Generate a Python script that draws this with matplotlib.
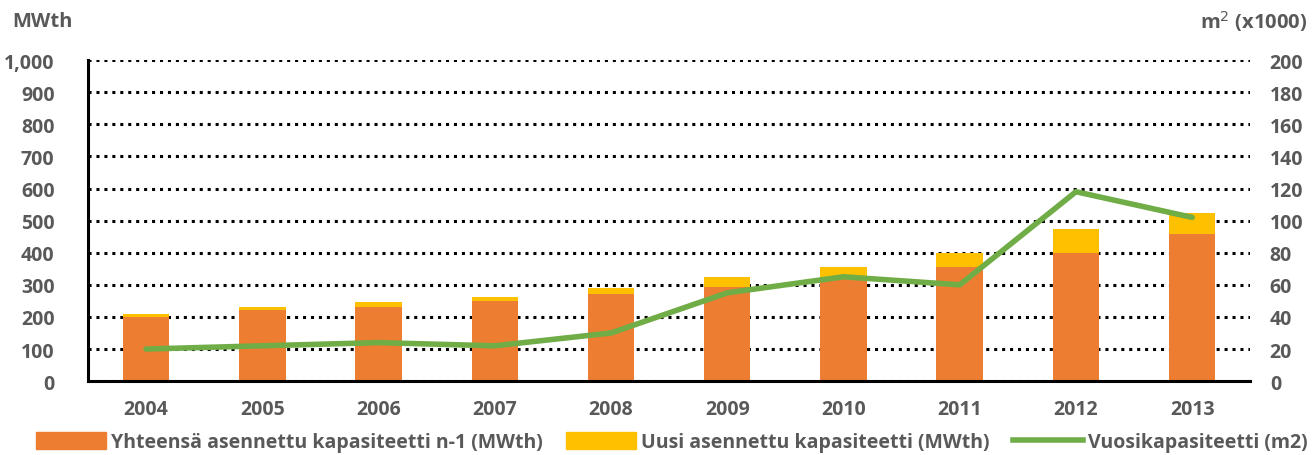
import matplotlib
matplotlib.use("Agg")
import matplotlib.pyplot as plt
import numpy as np
from matplotlib.lines import Line2D
from matplotlib.patches import Patch

years = ["2004", "2005", "2006", "2007", "2008", "2009", "2010", "2011", "2012", "2013"]
base_mwth = [200, 222, 230, 250, 270, 294, 325, 357, 398, 458]
total_mwth = [210, 230, 246, 262, 289, 325, 357, 398, 473, 525]
new_mwth = [t - b for t, b in zip(total_mwth, base_mwth)]
annual_m2 = [20, 22, 24, 22, 30, 55, 65, 60, 118, 102]

left_ticks = [0, 100, 200, 300, 400, 500, 600, 700, 800, 900, 1000]
right_ticks = [0, 20, 40, 60, 80, 100, 120, 140, 160, 180, 200]

ORANGE = "#ED7D31"
YELLOW = "#FFC000"
GREEN = "#70AD47"
GRAY = "#595959"

plt.rcParams['font.family'] = ['Open Sans', 'DejaVu Sans']

fig = plt.figure(figsize=(13.12, 4.56), dpi=100)
ax = fig.add_axes([0.067, 0.162, 0.886, 0.704])
x = np.arange(len(years))
w = 0.4
ax.bar(x, base_mwth, w, color=ORANGE, zorder=2)
ax.bar(x, new_mwth, w, bottom=base_mwth, color=YELLOW, zorder=2)
ax.set_xlim(-0.5, len(years) - 0.5)
ax.set_ylim(0, 1000)
ax.set_yticks(left_ticks)
ax.set_yticklabels([f"{v:,}" for v in left_ticks])
ax.set_xticks(x)
ax.set_xticklabels(years)
for s in ["top", "right"]:
    ax.spines[s].set_visible(False)
ax.spines["left"].set_linewidth(2.2)
ax.spines["bottom"].set_linewidth(2.2)
ax.spines["left"].set_color("black")
ax.spines["bottom"].set_color("black")
ax.yaxis.grid(True, linestyle=(0, (1, 1.6)), color="black", linewidth=2.2, zorder=0)
ax.set_axisbelow(True)
ax.tick_params(axis="both", length=0, labelsize=14, labelcolor=GRAY)
ax.tick_params(axis="x", pad=13)
ax.tick_params(axis="y", pad=24)
for lab in ax.get_xticklabels() + ax.get_yticklabels():
    lab.set_fontweight("bold")

ax2 = ax.twinx()
ax2.plot(x, annual_m2, color=GREEN, linewidth=4, zorder=3, solid_capstyle="round")
ax2.set_ylim(0, 200)
ax2.set_yticks(right_ticks)
for s in ["top", "right", "left", "bottom"]:
    ax2.spines[s].set_visible(False)
ax2.tick_params(axis="y", length=0, labelsize=14, labelcolor=GRAY, pad=14)
for lab in ax2.get_yticklabels():
    lab.set_fontweight("bold")

fig.text(0.009, 0.952, "MWth", fontsize=14.5, fontweight="bold", color=GRAY, ha="left", va="center")
fig.text(0.996, 0.952, "m$^{2}$ (x1000)", fontsize=14.5, fontweight="bold", color=GRAY, ha="right", va="center")

handles = [Patch(color=ORANGE), Patch(color=YELLOW), Line2D([0], [0], color=GREEN, lw=4)]
labels = ["Yhteensä asennettu kapasiteetti n-1 (MWth)", "Uusi asennettu kapasiteetti (MWth)", "Vuosikapasiteetti (m2)"]
leg = fig.legend(handles, labels, loc="center", bbox_to_anchor=(0.512, 0.028), ncol=3, frameon=False,
                 fontsize=14, handlelength=3.6, handleheight=0.9, columnspacing=1.2, handletextpad=0.25)
for t in leg.get_texts():
    t.set_color(GRAY)
    t.set_fontweight("bold")

fig.savefig("out.png", dpi=100)
